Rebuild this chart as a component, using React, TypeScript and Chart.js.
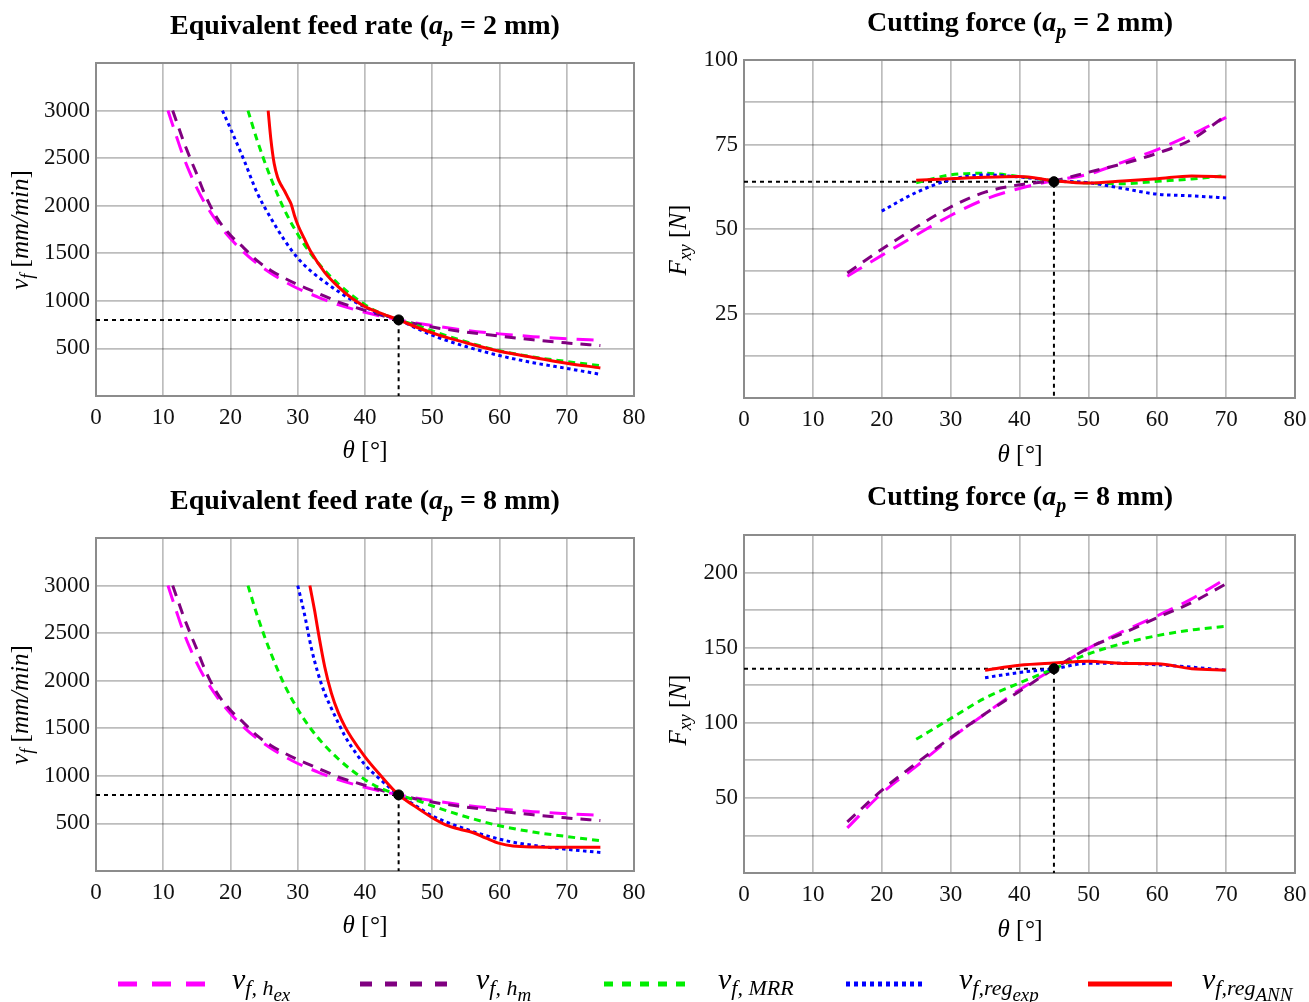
import React, { useEffect, useRef } from 'react';
import { Chart, registerables } from 'chart.js';

Chart.register(...registerables);

const FAMILY = '"Liberation Serif", "Times New Roman", serif';

// ---------------- DATA ----------------
// x axis: theta [deg]
const X_TICKS_MAX = 80;
const REF_THETA = 45;
const REF_VF = 800;
const REF_F2 = 64;
const REF_F8 = 136;

// Equivalent feed rate (a_p = 2 mm and 8 mm), v_f [mm/min]
const thHex = [10.7, 12, 13, 14, 15, 16, 18, 20, 22, 24, 26, 28, 30, 33, 36, 40, 45, 50, 55, 60, 65, 70, 75];
const vfHex = [3000, 2720, 2515, 2340, 2185, 2050, 1830, 1655, 1510, 1390, 1290, 1205, 1130, 1040, 960, 880, 800, 740, 690, 653, 624, 602, 585];
const thHm = [11.4, 12, 13, 14, 15, 16, 18, 20, 22, 24, 26, 28, 30, 33, 36, 40, 45, 50, 55, 60, 65, 70, 75];
const vfHm = [3000, 2880, 2680, 2500, 2330, 2150, 1870, 1690, 1555, 1420, 1320, 1240, 1170, 1080, 990, 900, 800, 725, 672, 630, 590, 558, 530];
const thMrr = [22.6, 24, 26, 28, 30, 32, 34, 36, 38, 40, 42, 45, 48, 51, 55, 60, 65, 70, 75];
const vfMrr = [3000, 2680, 2290, 1960, 1700, 1490, 1320, 1180, 1060, 960, 880, 800, 735, 660, 570, 475, 410, 362, 318];

const thRegExp2 = [18.8, 20, 22, 24, 26, 28, 30, 32, 34, 36, 38, 40, 42, 45, 48, 51, 55, 60, 65, 70, 75];
const vfRegExp2 = [3000, 2810, 2480, 2130, 1870, 1640, 1450, 1310, 1200, 1100, 1010, 935, 870, 800, 700, 612, 520, 425, 350, 290, 228];
const thRegAnn2 = [25.6, 26, 26.5, 27, 27.5, 28, 28.5, 29, 29.5, 30, 31, 32, 34, 36, 38, 40, 42, 45, 48, 51, 55, 60, 65, 70, 75];
const vfRegAnn2 = [3000, 2700, 2440, 2300, 2220, 2160, 2090, 2020, 1900, 1800, 1650, 1510, 1300, 1150, 1030, 940, 880, 800, 715, 640, 560, 470, 405, 345, 295];

const thRegExp8 = [30, 31, 32, 33, 34, 35, 36, 37, 38, 40, 42, 45, 47, 50, 52, 55, 57, 60, 62, 65, 70, 75];
const vfRegExp8 = [3000, 2700, 2350, 2080, 1870, 1710, 1560, 1420, 1305, 1115, 980, 800, 710, 580, 518, 440, 393, 335, 303, 270, 228, 195];
const thRegAnn8 = [31.8, 32.5, 33, 34, 35, 36, 37, 38, 40, 42, 45, 47, 50, 52, 54, 56, 58, 60, 62, 65, 70, 75];
const vfRegAnn8 = [3000, 2740, 2530, 2150, 1870, 1670, 1520, 1400, 1200, 1030, 800, 700, 560, 485, 440, 405, 345, 290, 262, 252, 250, 250];

// Cutting force, F_xy [N]
const thF = [15, 20, 25, 30, 35, 40, 45, 50, 55, 60, 65, 70];
const thFMrr = [25, 30, 35, 40, 45, 50, 55, 60, 65, 70];
const thFRegExp2 = [20, 25, 30, 35, 40, 45, 50, 55, 60, 65, 70];
const thFRegAnn2 = [25, 30, 35, 40, 45, 50, 55, 60, 65, 70];
const thFReg8 = [35, 40, 45, 50, 55, 60, 65, 70];

const fHex2 = [36, 42.2, 48.2, 54, 58.8, 62, 64.3, 66.2, 69.8, 73.5, 78, 83];
const fHm2 = [37, 44, 50.5, 56.5, 60.9, 63.1, 64.3, 66.8, 69.3, 72.4, 76.5, 83.6];
const fMrr2 = [63.7, 66, 66.5, 65.5, 64.3, 63.6, 63.4, 64.1, 64.8, 65.8];
const fRegExp2 = [55.3, 60.8, 64.6, 66, 65.4, 64.3, 63.7, 62, 60.3, 59.8, 59.2];
const fRegAnn2 = [64.4, 64.9, 65.3, 65.5, 64.3, 63.6, 64.2, 64.9, 65.7, 65.4];

const fHex8 = [30, 53, 71, 89.5, 106, 122, 136, 149.5, 160.8, 171.2, 182.5, 196];
const fHm8 = [34, 55, 73, 90, 106, 121, 136, 149.8, 159.5, 170, 180, 192.5];
const fMrr8 = [89, 102.8, 116.5, 126.5, 136, 145.8, 152.8, 158, 161.8, 164.2];
const fRegExp8 = [130, 133.5, 136, 139.6, 139.6, 138.6, 137, 135];
const fRegAnn8 = [135, 138.3, 139.8, 141, 139.5, 139.3, 136, 135.1];

// ---------------- STYLES ----------------
type Seg = { t: string; f: string; dy?: number };
const R = (s: number) => `${s}px ${FAMILY}`;
const I = (s: number) => `italic ${s}px ${FAMILY}`;
const B = (s: number) => `bold ${s}px ${FAMILY}`;
const BI = (s: number) => `italic bold ${s}px ${FAMILY}`;

const STYLE = {
  hex: { color: '#ff00ff', dash: [17, 10], legendDash: [19, 15] },
  hm: { color: '#800080', dash: [11, 8], legendDash: [12, 13] },
  mrr: { color: '#00ee00', dash: [7, 5], legendDash: [9, 9] },
  exp: { color: '#0000ff', dash: [3.5, 3.5], legendDash: [4, 4] },
  ann: { color: '#ff0000', dash: [] as number[], legendDash: [] as number[] },
};

const LEGEND_LABELS: Seg[][] = [
  [{ t: 'v', f: I(30) }, { t: 'f, h', f: I(22), dy: 6 }, { t: 'ex', f: I(19), dy: 12 }],
  [{ t: 'v', f: I(30) }, { t: 'f, h', f: I(22), dy: 6 }, { t: 'm', f: I(19), dy: 12 }],
  [{ t: 'v', f: I(30) }, { t: 'f, MRR', f: I(22), dy: 6 }],
  [{ t: 'v', f: I(30) }, { t: 'f,reg', f: I(22), dy: 6 }, { t: 'exp', f: I(19), dy: 12 }],
  [{ t: 'v', f: I(30) }, { t: 'f,reg', f: I(22), dy: 6 }, { t: 'ANN', f: I(19), dy: 12 }],
];

function drawRich(ctx: CanvasRenderingContext2D, segs: Seg[], x: number, y: number, align: 'center' | 'left', rot = 0) {
  ctx.save();
  ctx.translate(x, y);
  if (rot) ctx.rotate(rot);
  const widths = segs.map((s) => {
    ctx.font = s.f;
    return ctx.measureText(s.t).width;
  });
  const total = widths.reduce((a, b) => a + b, 0);
  let cx = align === 'center' ? -total / 2 : 0;
  ctx.textAlign = 'left';
  ctx.textBaseline = 'alphabetic';
  ctx.fillStyle = '#000';
  segs.forEach((s, i) => {
    ctx.font = s.f;
    ctx.fillText(s.t, cx, s.dy || 0);
    cx += widths[i];
  });
  ctx.restore();
}

const pts = (xs: number[], ys: number[]) => xs.map((x, i) => ({ x, y: ys[i] }));

type Spec = {
  left: number; top: number; w: number; h: number;
  padding: { left: number; right: number; top: number; bottom: number };
  yMax: number; yStep: number; yLabelStep: number;
  series: { key: keyof typeof STYLE; xs: number[]; ys: number[] }[];
  refY: number;
  title: Seg[]; titleX: number; titleY: number;
  yLabel: Seg[]; yLabelX: number; yLabelY: number;
  xLabelX: number; xLabelY: number;
};

const X_LABEL: Seg[] = [{ t: 'θ', f: I(25) }, { t: ' [', f: R(25) }, { t: '°', f: I(25) }, { t: ']', f: R(25) }];
const VF_LABEL: Seg[] = [{ t: 'v', f: I(25) }, { t: 'f', f: I(18), dy: 5 }, { t: ' [', f: R(25) }, { t: 'mm/min', f: I(25) }, { t: ']', f: R(25) }];
const F_LABEL: Seg[] = [{ t: 'F', f: I(25) }, { t: 'xy', f: I(18), dy: 5 }, { t: ' [', f: R(25) }, { t: 'N', f: I(25) }, { t: ']', f: R(25) }];
const title = (main: string, ap: string): Seg[] => [
  { t: main + ' (', f: B(28) },
  { t: 'a', f: BI(28) },
  { t: 'p', f: BI(20), dy: 7 },
  { t: ` = ${ap} mm)`, f: B(28) },
];

const SPECS: Spec[] = [
  {
    left: 0, top: 0, w: 654, h: 470,
    padding: { left: 36, right: 20, top: 63, bottom: 44 },
    yMax: 3500, yStep: 500, yLabelStep: 500,
    series: [
      { key: 'hex', xs: thHex, ys: vfHex },
      { key: 'hm', xs: thHm, ys: vfHm },
      { key: 'mrr', xs: thMrr, ys: vfMrr },
      { key: 'exp', xs: thRegExp2, ys: vfRegExp2 },
      { key: 'ann', xs: thRegAnn2, ys: vfRegAnn2 },
    ],
    refY: REF_VF,
    title: title('Equivalent feed rate', '2'), titleX: 365, titleY: 34,
    yLabel: VF_LABEL, yLabelX: 28, yLabelY: 230,
    xLabelX: 365, xLabelY: 458,
  },
  {
    left: 654, top: 0, w: 661, h: 470,
    padding: { left: 30, right: 20, top: 60, bottom: 42 },
    yMax: 100, yStep: 12.5, yLabelStep: 25,
    series: [
      { key: 'hex', xs: thF, ys: fHex2 },
      { key: 'hm', xs: thF, ys: fHm2 },
      { key: 'mrr', xs: thFMrr, ys: fMrr2 },
      { key: 'exp', xs: thFRegExp2, ys: fRegExp2 },
      { key: 'ann', xs: thFRegAnn2, ys: fRegAnn2 },
    ],
    refY: REF_F2,
    title: title('Cutting force', '2'), titleX: 366, titleY: 31,
    yLabel: F_LABEL, yLabelX: 32, yLabelY: 240,
    xLabelX: 366, xLabelY: 462,
  },
  {
    left: 0, top: 470, w: 654, h: 480,
    padding: { left: 36, right: 20, top: 68, bottom: 49 },
    yMax: 3500, yStep: 500, yLabelStep: 500,
    series: [
      { key: 'hex', xs: thHex, ys: vfHex },
      { key: 'hm', xs: thHm, ys: vfHm },
      { key: 'mrr', xs: thMrr, ys: vfMrr },
      { key: 'exp', xs: thRegExp8, ys: vfRegExp8 },
      { key: 'ann', xs: thRegAnn8, ys: vfRegAnn8 },
    ],
    refY: REF_VF,
    title: title('Equivalent feed rate', '8'), titleX: 365, titleY: 39,
    yLabel: VF_LABEL, yLabelX: 28, yLabelY: 235,
    xLabelX: 365, xLabelY: 463,
  },
  {
    left: 654, top: 470, w: 661, h: 480,
    padding: { left: 30, right: 20, top: 65, bottom: 47 },
    yMax: 225, yStep: 25, yLabelStep: 50,
    series: [
      { key: 'hex', xs: thF, ys: fHex8 },
      { key: 'hm', xs: thF, ys: fHm8 },
      { key: 'mrr', xs: thFMrr, ys: fMrr8 },
      { key: 'exp', xs: thFReg8, ys: fRegExp8 },
      { key: 'ann', xs: thFReg8, ys: fRegAnn8 },
    ],
    refY: REF_F8,
    title: title('Cutting force', '8'), titleX: 366, titleY: 35,
    yLabel: F_LABEL, yLabelX: 32, yLabelY: 240,
    xLabelX: 366, xLabelY: 467,
  },
];

const ORDER: Record<string, number> = { ann: 1, exp: 2, mrr: 3, hm: 4, hex: 5 };

function buildConfig(spec: Spec): any {
  const datasets: any[] = spec.series.map((s) => ({
    label: s.key,
    data: pts(s.xs, s.ys),
    borderColor: STYLE[s.key].color,
    borderDash: STYLE[s.key].dash,
    borderWidth: 3,
    borderCapStyle: 'butt',
    pointRadius: 0,
    fill: false,
    cubicInterpolationMode: 'monotone',
    order: ORDER[s.key],
  }));
  datasets.push({
    label: 'ref-lines',
    data: [
      { x: 0, y: spec.refY },
      { x: REF_THETA, y: spec.refY },
      { x: REF_THETA, y: 0 },
    ],
    borderColor: '#000',
    borderDash: [4, 4],
    borderWidth: 2,
    pointRadius: 0,
    tension: 0,
    order: 6,
  });
  datasets.push({
    label: 'ref-point',
    data: [{ x: REF_THETA, y: spec.refY }],
    showLine: false,
    pointRadius: 5,
    pointBackgroundColor: '#000',
    pointBorderColor: '#000',
    order: 0,
  });

  const textPlugin = {
    id: 'richText',
    beforeDatasetsDraw(chart: any) {
      const { ctx, chartArea } = chart;
      ctx.save();
      ctx.strokeStyle = '#8c8c8c';
      ctx.lineWidth = 2;
      ctx.strokeRect(chartArea.left, chartArea.top, chartArea.right - chartArea.left, chartArea.bottom - chartArea.top);
      ctx.restore();
    },
    afterDraw(chart: any) {
      const ctx = chart.ctx as CanvasRenderingContext2D;
      drawRich(ctx, spec.title, spec.titleX, spec.titleY, 'center');
      drawRich(ctx, X_LABEL, spec.xLabelX, spec.xLabelY, 'center');
      drawRich(ctx, spec.yLabel, spec.yLabelX, spec.yLabelY, 'center', -Math.PI / 2);
    },
  };

  const tickFont = { family: FAMILY, size: 23 };
  const grid = { color: 'rgba(0,0,0,0.26)', lineWidth: 1.7, drawTicks: false };

  return {
    type: 'line',
    data: { datasets },
    options: {
      animation: false,
      responsive: false,
      maintainAspectRatio: false,
      layout: { padding: spec.padding },
      events: [],
      plugins: { legend: { display: false }, tooltip: { enabled: false }, title: { display: false } },
      scales: {
        x: {
          type: 'linear',
          min: 0,
          max: X_TICKS_MAX,
          afterFit: (s: any) => { s.height = 30; },
          ticks: { stepSize: 10, autoSkip: false, maxRotation: 0, padding: 8, font: tickFont, color: '#111' },
          grid,
          border: { display: false },
        },
        y: {
          type: 'linear',
          min: 0,
          max: spec.yMax,
          afterFit: (s: any) => { s.width = 60; },
          ticks: {
            stepSize: spec.yStep,
            autoSkip: false,
            padding: 6,
            font: tickFont,
            color: '#111',
            callback: (v: number) => {
              if (v === 0) return '';
              if (spec.yMax === 3500 && v === 3500) return '';
              const r = v / spec.yLabelStep;
              return Math.abs(r - Math.round(r)) < 1e-6 ? String(v) : '';
            },
          },
          grid,
          border: { display: false },
        },
      },
    },
    plugins: [textPlugin],
  };
}

function ChartPanel({ spec }: { spec: Spec }) {
  const ref = useRef<HTMLCanvasElement>(null);
  useEffect(() => {
    const chart = new Chart(ref.current as HTMLCanvasElement, buildConfig(spec));
    return () => chart.destroy();
  }, [spec]);
  return (
    <canvas
      ref={ref}
      width={spec.w}
      height={spec.h}
      style={{ position: 'absolute', left: spec.left, top: spec.top, width: spec.w, height: spec.h }}
    />
  );
}

const LEGEND_ORDER: (keyof typeof STYLE)[] = ['hex', 'hm', 'mrr', 'exp', 'ann'];
const LEGEND_LINE_X = [118, 360, 604, 846, 1088];
const LEGEND_LINE_W = [87, 87, 84, 80, 84];
const LEGEND_TEXT_X = [232, 476, 718, 959, 1202];

function Legend() {
  const ref = useRef<HTMLCanvasElement>(null);
  useEffect(() => {
    const c = ref.current as HTMLCanvasElement;
    const ctx = c.getContext('2d') as CanvasRenderingContext2D;
    ctx.clearRect(0, 0, c.width, c.height);
    LEGEND_ORDER.forEach((k, i) => {
      const st = STYLE[k];
      ctx.save();
      ctx.strokeStyle = st.color;
      ctx.lineWidth = 5;
      ctx.setLineDash(st.legendDash);
      ctx.beginPath();
      ctx.moveTo(LEGEND_LINE_X[i], 34);
      ctx.lineTo(LEGEND_LINE_X[i] + LEGEND_LINE_W[i], 34);
      ctx.stroke();
      ctx.restore();
      drawRich(ctx, LEGEND_LABELS[i], LEGEND_TEXT_X[i], 39, 'left');
    });
  }, []);
  return (
    <canvas
      ref={ref}
      width={1309}
      height={52}
      style={{ position: 'absolute', left: 0, top: 950, width: 1309, height: 52 }}
    />
  );
}

export default function App() {
  return (
    <div style={{ position: 'absolute', left: 0, top: 0, width: 1309, height: 1002, background: '#fff', overflow: 'hidden' }}>
      {SPECS.map((s, i) => (
        <ChartPanel key={i} spec={s} />
      ))}
      <Legend />
    </div>
  );
}
